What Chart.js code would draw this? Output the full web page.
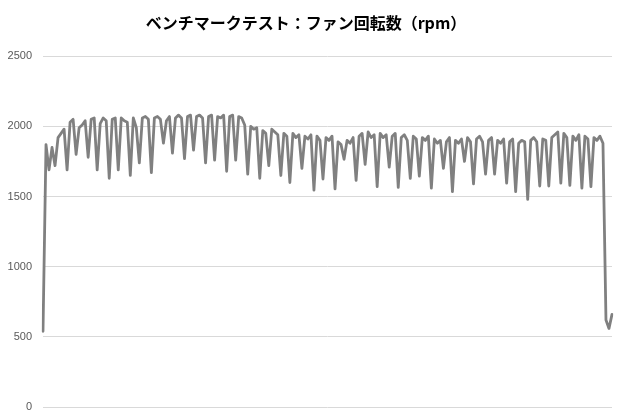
<!DOCTYPE html>
<html>
<head>
<meta charset="utf-8">
<script src="https://cdn.jsdelivr.net/npm/chart.js@4.4.1/dist/chart.umd.min.js"></script>
<style>
html,body{margin:0;padding:0;background:#fff;}
#wrap{width:620px;height:420px;position:relative;}
</style>
</head>
<body>
<div id="wrap"><canvas id="c" width="620" height="420"></canvas></div>
<script>
const chartTitle = "ベンチマークテスト：ファン回転数（rpm）";
const yTicks = [0, 500, 1000, 1500, 2000, 2500];
const fanRpm = [
 540,1870,1690,1850,1720,1920,1950,1980,1690,2030,
 2050,1800,1990,2010,2040,1780,2050,2060,1690,2020,
 2060,2040,1630,2050,2060,1690,2060,2040,2030,1650,
 2060,1990,1740,2060,2070,2050,1670,2060,2070,2050,
 1880,2040,2070,1810,2060,2080,2060,1770,2070,2080,
 1830,2070,2080,2060,1740,2070,2080,1760,2070,2060,
 2080,1680,2070,2080,1760,2070,2060,2010,1660,2000,
 1980,1990,1630,1970,1950,1720,1980,1960,1940,1650,
 1950,1930,1600,1950,1920,1940,1700,1930,1910,1940,
 1545,1930,1900,1625,1920,1900,1930,1555,1890,1870,
 1765,1900,1880,1920,1615,1930,1950,1730,1960,1920,
 1940,1570,1950,1920,1940,1710,1930,1950,1565,1920,
 1940,1900,1630,1930,1910,1645,1920,1900,1930,1560,
 1910,1880,1900,1700,1890,1920,1535,1900,1880,1910,
 1750,1920,1890,1590,1910,1930,1890,1660,1900,1920,
 1660,1900,1880,1910,1595,1890,1910,1535,1880,1900,
 1890,1480,1900,1920,1890,1575,1910,1900,1575,1920,
 1940,1960,1595,1950,1920,1580,1930,1900,1940,1560,
 1930,1910,1570,1920,1900,1930,1880,620,560,660
];
const sampleLabels = fanRpm.map((_, i) => String(i + 1));

new Chart(document.getElementById('c'), {
  type: 'line',
  data: {
    labels: sampleLabels,
    datasets: [{
      data: fanRpm,
      borderColor: '#808080',
      borderWidth: 2.8,
      pointRadius: 0,
      tension: 0,
      borderJoinStyle: 'round',
      borderCapStyle: 'round',
      fill: false
    }]
  },
  options: {
    responsive: false,
    animation: false,
    events: [],
    layout: { padding: { left: 0, right: 8, top: 0, bottom: 13 } },
    plugins: {
      legend: { display: false },
      tooltip: { enabled: false },
      title: {
        display: true,
        text: chartTitle,
        color: '#000000',
        font: { family: '"Noto Sans CJK JP", "Noto Sans", sans-serif', size: 16, weight: 'bold' },
        padding: { top: 13, bottom: 24 }
      }
    },
    scales: {
      x: { display: false, offset: false },
      y: {
        min: 0, max: 2500,
        afterBuildTicks: (axis) => { axis.ticks = yTicks.map(v => ({ value: v })); },
        afterFit: (axis) => { axis.width = 43; axis.paddingTop = 0; axis.paddingBottom = 0; },
        border: { display: false },
        grid: { color: '#d9d9d9', lineWidth: 1, drawTicks: false },
        ticks: {
          color: '#595959',
          padding: 11,
          callback: (v) => String(v),
          font: { family: '"Liberation Sans", "Noto Sans", sans-serif', size: 11 }
        }
      }
    }
  }
});
</script>
</body>
</html>
